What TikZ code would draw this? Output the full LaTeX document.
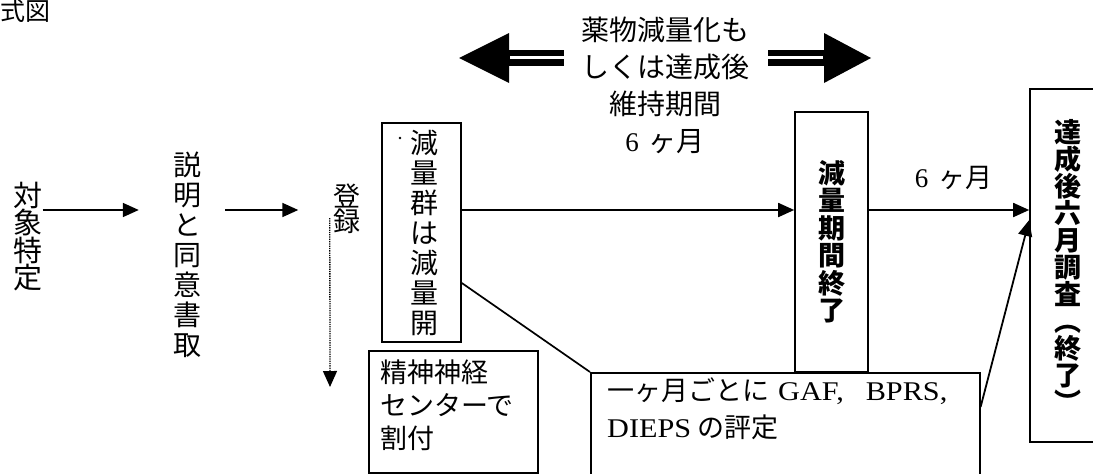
\documentclass[tikz,border=0pt]{standalone}
\usepackage{fontspec}
\setmainfont{Liberation Serif}
\newfontfamily\jpf{Noto Sans CJK JP}
\newfontfamily\latf{Liberation Serif}[FakeStretch=1.12]
\usetikzlibrary{arrows.meta,calc}
\begin{document}
\begin{tikzpicture}[x=1pt,y=-1pt,
  boxs/.style={draw, line width=1.6pt, inner sep=0pt, align=center},
  vt/.style={inner sep=0pt, align=center},
  arr/.style={line width=1.8pt, -{Triangle[length=16pt,width=14pt]}},
  dotarr/.style={line width=1.3pt, densely dotted, -{Triangle[length=16pt,width=14pt]}},
  lnk/.style={line width=1.7pt},
  bigarrow/.style={fill=black},
]
\useasboundingbox (0,0) rectangle (1093,474);
\clip (0,0) rectangle (1093,474);
\coordinate (row) at (0,210);

% title fragment
\node[vt, anchor=west, font=\jpf\fontsize{25}{25}\selectfont] (title) at (0,11) {式図};

% left column texts
\node[vt, font=\jpf\fontsize{29}{27.5}\selectfont] (taisho) at (28,236.5) {対\\象\\特\\定};
\node[vt, font=\jpf\fontsize{28}{30}\selectfont] (setsumei) at (187,255) {説\\明\\と\\同\\意\\書\\取};
\node[vt, font=\jpf\fontsize{27}{25.5}\selectfont] (touroku) at (347,209) {登\\録};

% box A
\node[boxs, minimum width=79pt, minimum height=219pt, font=\jpf\fontsize{28}{30}\selectfont] (A) at (421.5,232.5) {\hspace*{6pt}減\\\hspace*{6pt}量\\\hspace*{6pt}群\\\hspace*{6pt}は\\\hspace*{6pt}減\\\hspace*{6pt}量\\\hspace*{6pt}開};
\fill (400,138) circle (1.3pt);

% box B
\node[boxs, minimum width=73pt, minimum height=260pt, font=\jpf\bfseries\fontsize{27}{27.5}\selectfont] (B) at (831.5,242) {減\\量\\期\\間\\終\\了};

% box C
\node[boxs, minimum width=76pt, minimum height=353pt, font=\jpf\bfseries\fontsize{27}{27}\selectfont] (C) at (1068,265.5) {達\\成\\後\\六\\月\\調\\査\\︵\\終\\了\\︶};

% box D
\node[boxs, minimum width=169pt, minimum height=122pt, anchor=north west] (D) at (368,350) {};
\node[inner sep=0pt, anchor=west, align=left, font=\jpf\fontsize{27}{33}\selectfont] (Dt) at (380,405) {精神神経\\センターで\\割付};

% box E
\node[boxs, minimum width=389pt, minimum height=140pt, anchor=north west, fill=white] (E) at (590,372) {};
\node[inner sep=0pt, anchor=north west, align=left, font=\fontsize{27}{37}\selectfont] (Et) at (607,378)
  {{\jpf\fontsize{27}{37}\selectfont 一ヶ月ごとに}\hspace{9pt}{\latf GAF,}\hspace{22pt}{\latf BPRS,}\\{\latf DIEPS}\hspace{6pt}{\jpf\fontsize{27}{37}\selectfont の評定}};

% top text
\node[vt, font=\jpf\fontsize{28}{37}\selectfont] (T) at (665,85)
  {薬物減量化も\\しくは達成後\\維持期間\\{\rmfamily\fontsize{27}{37}\selectfont 6}\hspace{10pt}ヶ月};

% label between B and C
\node[inner sep=0pt] (L6) at (953.5,178) {{\fontsize{27}{27}\selectfont 6}\hspace{10pt}{\jpf\fontsize{27}{27}\selectfont ヶ月}};

% big double arrows
\fill[bigarrow] (459,58) -- (509,33) -- (509,83) -- cycle;
\fill[bigarrow] (508,49.5) rectangle (564,66);
\draw[white, line width=2.5pt] (510,57.5) -- (564.5,57.5);
\fill[bigarrow] (871,58) -- (824,33) -- (824,83) -- cycle;
\fill[bigarrow] (768,49.5) rectangle (825,66);
\draw[white, line width=2.5pt] (767.5,57.5) -- (823,57.5);

% connectors
\draw[arr] ($(taisho.east |- row)+(0,0)$) -- ($(setsumei.west |- row)+(-34,0)$);
\draw[arr] ($(setsumei.east |- row)+(24,0)$) -- ($(touroku.west |- row)+(-35,0)$);
\coordinate (dotend) at (330,387);
\draw[dotarr] ($(touroku.west)+(-3.5,9)$) -- (dotend);
\draw[arr] (A.east |- row) -- (B.west |- row);
\draw[arr] (B.east |- row) -- (C.west |- row);
\draw[lnk] ($(A.east)+(0,50.5)$) -- (E.north west);
\draw[arr] ($(E.north east)+(0,35)$) -- ($(C.west)+(0,-45.5)$);
\end{tikzpicture}
\end{document}
